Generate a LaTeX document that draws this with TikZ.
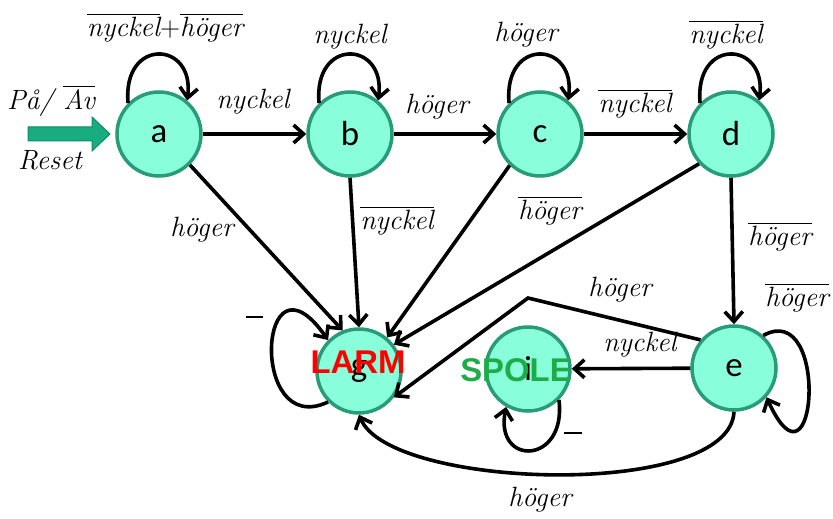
\documentclass[tikz,border=0pt]{standalone}
\usepackage{fontspec}
\newfontfamily\lettersf{Carlito}
\newfontfamily\boldsf{Liberation Sans}
\usetikzlibrary{arrows.meta}
\definecolor{nodefill}{RGB}{136,255,218}
\definecolor{nodeedge}{RGB}{40,155,120}
\definecolor{startgreen}{RGB}{24,172,128}
\definecolor{startedge}{RGB}{14,140,104}
\definecolor{larmred}{RGB}{255,0,0}
\definecolor{spolegreen}{RGB}{30,172,72}
\newcommand\ovl[1]{\leavevmode\vbox{\hrule height 1.4bp\kern 2.5bp\hbox{#1}}}
\begin{document}
\begin{tikzpicture}[x=1bp,y=-1bp,
  state/.style={circle, draw=nodeedge, line width=3.5bp, fill=nodefill, minimum size=84bp, inner sep=0pt, font=\fontsize{35}{37}\lettersf},
  edge/.style={line width=3.6bp, -{Straight Barb[length=10bp,width=18bp]}},
  lbl/.style={font=\fontsize{28}{32}\selectfont\itshape, inner sep=1bp},
  dashlbl/.style={inner sep=0pt},
  bigword/.style={font=\fontsize{33}{35}\boldsf\bfseries, inner sep=0pt}
]
\useasboundingbox (0,0) rectangle (833,519);

% start arrow
\filldraw[fill=startgreen, draw=startedge, line width=1bp]
  (28,127) -- (92,127) -- (92,117) -- (110,134) -- (92,151) -- (92,141) -- (28,141) -- cycle;

% states
\node[state] (a) at (159,134) {a};
\node[state] (b) at (350,134) {b};
\node[state] (c) at (540,134) {c};
\node[state] (d) at (731,134) {d};
\node[state] (g) at (359,371) {g};
\node[state] (i) at (528,369) {i};
\node[state] (e) at (734,368) {e};

% straight transitions
\draw[edge] (a) -- (b);
\draw[edge] (b) -- (c);
\draw[edge] (c) -- (d);
\draw[edge] (a.-45) -- (g.112);
\draw[edge] (b.-90) -- (g.90);
\draw[edge] (c.-134) -- (g.50);
\draw[edge] (d.-137) -- (g.37);
\draw[edge] (d.-90) -- (e.90);
\coordinate (bend) at (528,298);
\draw[edge] (e.140) -- (bend) -- (g.-37);
\draw[edge] (e) -- (i);
\draw[edge] (e.-90) .. controls +(-4,88) and +(31,75) .. (g.-90);

% self loops
\draw[edge] (a.135) .. controls +(-6,-66) and +(8,-60) .. (a.50);
\draw[edge] (b.135) .. controls +(-6,-66) and +(8,-60) .. (b.50);
\draw[edge] (c.135) .. controls +(-6,-66) and +(8,-60) .. (c.50);
\draw[edge] (d.135) .. controls +(-6,-66) and +(8,-60) .. (d.50);
\draw[edge] (e.48) .. controls +(67,-37) and +(50,110) .. (e.-42);
\draw[edge] (g.-135) .. controls +(-80,38) and +(-70,-100) .. (g.135);
\draw[edge] (i.-45) .. controls +(8,65) and +(-12,60) .. (i.-120);

% overlay words
\node[bigword, text=larmred] (larm) at (358,362) {LARM};
\node[bigword, text=spolegreen] (spole) at (516,370) {SPOLE};

% labels
\node[lbl] (lpa) at (51,101) {På/ \ovl{Av}};
\node[lbl] (lreset) at (50,160) {Reset};
\node[lbl] (laa) at (165,28) {\ovl{nyckel}{\upshape+}\ovl{höger}};
\node[lbl] (lab) at (253,102) {nyckel};
\node[lbl] (lbb) at (350,37) {nyckel};
\node[lbl] (lbc) at (437,107) {höger};
\node[lbl] (lcc) at (526,35) {höger};
\node[lbl] (lcd) at (635,104) {\ovl{nyckel}};
\node[lbl] (ldd) at (726,35) {\ovl{nyckel}};
\node[lbl] (lag) at (202,230) {höger};
\node[lbl] (lbg) at (397,221) {\ovl{nyckel}};
\node[lbl] (ldg) at (550,211) {\ovl{höger}};
\node[lbl] (lde) at (780,237) {\ovl{höger}};
\node[lbl] (leg) at (620,290) {höger};
\node[lbl] (lei) at (640,345) {nyckel};
\node[lbl] (lee) at (797,298) {\ovl{höger}};
\node[lbl] (legb) at (540,500) {höger};
\node[dashlbl] (lgg) at (254,317) {\rule{17bp}{1.4bp}};
\node[dashlbl] (lii) at (573,433) {\rule{18bp}{1.4bp}};
\end{tikzpicture}
\end{document}
